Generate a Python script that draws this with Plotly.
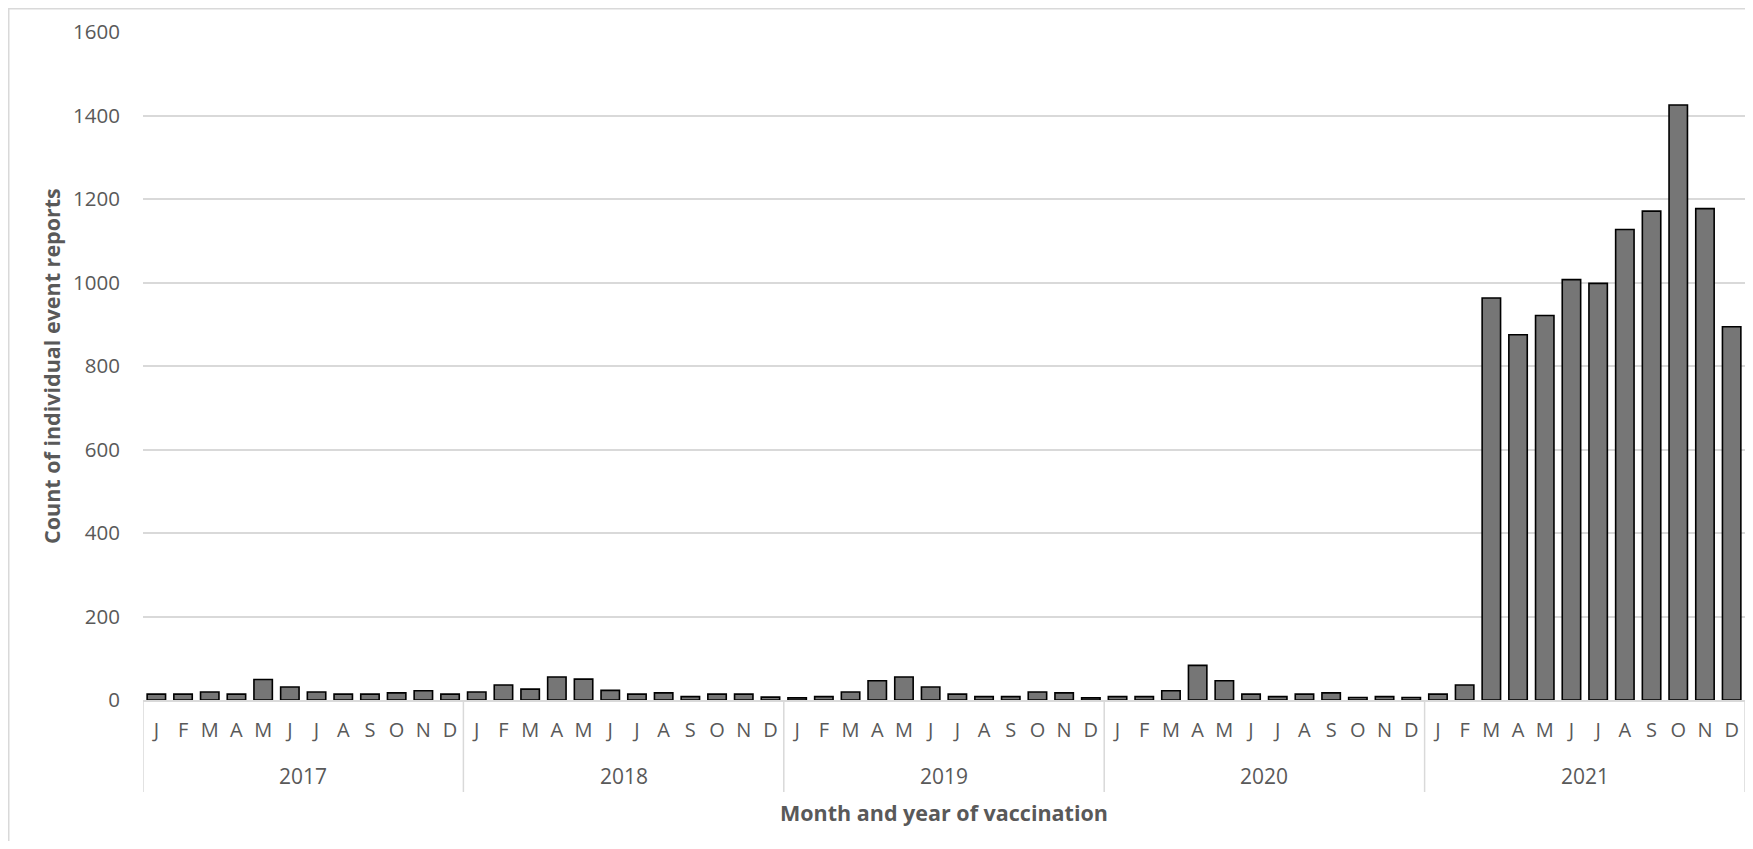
import plotly.graph_objects as go

years = ["2017", "2018", "2019", "2020", "2021"]
months = ["J", "F", "M", "A", "M", "J", "J", "A", "S", "O", "N", "D"]

counts_2017 = [14, 14, 19, 14, 49, 31, 19, 14, 14, 17, 22, 14]
counts_2018 = [19, 36, 26, 55, 50, 23, 14, 17, 8, 14, 14, 7]
counts_2019 = [5, 8, 19, 46, 55, 31, 14, 8, 8, 19, 17, 5]
counts_2020 = [8, 8, 22, 83, 46, 14, 8, 14, 17, 6, 8, 6]
counts_2021 = [14, 36, 963, 875, 921, 1007, 998, 1127, 1171, 1425, 1177, 894]

all_counts = counts_2017 + counts_2018 + counts_2019 + counts_2020 + counts_2021
month_labels = months * len(years)
xpos = list(range(len(all_counts)))

TXT = "#595959"
GRID = "#d9d9d9"
FONT = "Open Sans"

# the page body has an 8px margin; work in window pixels and convert
OFF = 8
W, H = 1737, 833
PL, PR, PT, PB = 143, 1745, 32, 700          # plot area in window pixels
L, T = PL - OFF, PT - OFF
R = W - (PR - OFF)
B = H - (PB - OFF)
pw, ph = W - L - R, H - T - B

def px_to_paper_x(px):
    return (px - OFF - L) / pw

def px_to_paper_y(py):
    return (PB - py) / ph

fig = go.Figure()
fig.add_trace(go.Bar(
    x=xpos, y=all_counts,
    marker=dict(color="#767676", line=dict(color="#000000", width=1.6)),
    hovertext=[f"{m} {years[i // 12]}" for i, m in enumerate(month_labels)],
))

shapes = []
annotations = []
for k in range(len(years) + 1):
    shapes.append(dict(type="line", xref="x", yref="paper",
                       x0=-0.5 + 12 * k, x1=-0.5 + 12 * k,
                       y0=0, y1=px_to_paper_y(792),
                       line=dict(color=GRID, width=1.5)))
for k, yr in enumerate(years):
    annotations.append(dict(text=yr, xref="x", yref="paper",
                            x=5.5 + 12 * k, y=px_to_paper_y(776),
                            showarrow=False, yanchor="middle",
                            font=dict(family=FONT, size=21, color=TXT)))

annotations.append(dict(text="<b>Month and year of vaccination</b>", xref="paper", yref="paper",
                        x=0.5, y=px_to_paper_y(812), showarrow=False, yanchor="middle",
                        font=dict(family=FONT, size=21.5, color=TXT)))
annotations.append(dict(text="<b>Count of individual event reports</b>", xref="paper", yref="paper",
                        x=px_to_paper_x(51), y=0.5, showarrow=False, textangle=-90,
                        xanchor="center", yanchor="middle",
                        font=dict(family=FONT, size=21.5, color=TXT)))

# chart frame (left and top edges visible)
shapes.append(dict(type="rect", xref="paper", yref="paper",
                   x0=px_to_paper_x(8.75), x1=px_to_paper_x(1760),
                   y0=px_to_paper_y(860), y1=px_to_paper_y(8.75),
                   line=dict(color=GRID, width=1.5), fillcolor="rgba(0,0,0,0)", layer="below"))

fig.update_layout(
    width=W, height=H,
    margin=dict(l=L, r=R, t=T, b=B),
    plot_bgcolor="white", paper_bgcolor="white",
    bargap=0.31,
    showlegend=False,
    shapes=shapes,
    annotations=annotations,
    font=dict(family=FONT, color=TXT),
    xaxis=dict(
        range=[-0.5, len(all_counts) - 0.5],
        tickmode="array", tickvals=xpos, ticktext=month_labels,
        tickfont=dict(family=FONT, size=20, color=TXT),
        showgrid=False, zeroline=False,
        showline=True, linecolor=GRID, linewidth=2,
        ticks="", ticklabelstandoff=11,
        tickangle=0,
    ),
    yaxis=dict(
        range=[0, 1600], tickmode="linear", tick0=0, dtick=200,
        tickfont=dict(family=FONT, size=20.5, color=TXT),
        showgrid=True, gridcolor=GRID, gridwidth=1.5,
        zeroline=False, showline=False,
        ticks="", ticklabelstandoff=22,
    ),
)

fig.write_html("out.html")
